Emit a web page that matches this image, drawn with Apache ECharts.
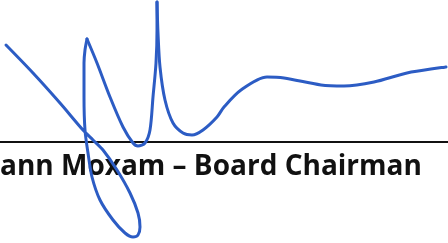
<!DOCTYPE html>
<html>
<head>
<meta charset="utf-8">
<script src="https://cdn.jsdelivr.net/npm/echarts@6/dist/echarts.min.js"></script>
<style>html,body{margin:0;padding:0;background:#fff}#c{width:448px;height:243px}</style>
</head>
<body>
<div id="c"></div>
<script>
const sigX = [6, 33, 60, 83, 93, 103, 117, 130, 138, 140, 138, 133, 125, 113, 100, 92, 88, 85, 84, 84, 85, 87, 97, 110, 123, 133, 138, 145, 150, 153, 156, 157, 157, 158, 160, 165, 173, 183, 192, 203, 217, 224, 241, 267, 284, 321, 344, 374, 407, 446];
const sigY = [45, 73, 103, 130, 140, 150, 170, 193, 213, 227, 235, 237, 233, 220, 200, 177, 153, 130, 97, 63, 50, 39, 63, 97, 127, 143, 146, 143, 130, 97, 63, 30, 2, 33, 67, 100, 123, 133, 135, 130, 117, 107, 90, 77, 78, 85, 86, 82, 73, 67];
// indices where the pen turns sharply (stroke is split there)
const sharpPoints = [21, 32];
const ruleX = [0, 448];
const ruleY = [142, 142];
const caption = 'ann Moxam \u2013 Board Chairman';

const sigData = sigX.map((x, i) => [x, sigY[i]]);
const ruleData = ruleX.map((x, i) => [x, ruleY[i]]);
const cuts = [0, ...sharpPoints, sigData.length - 1];
const strokeSeries = [];
for (let k = 0; k < cuts.length - 1; k++) {
  strokeSeries.push({
    type: 'line', data: sigData.slice(cuts[k], cuts[k + 1] + 1), symbol: 'none',
    smooth: 0.3, z: 3,
    lineStyle: {color: '#2c5cc4', width: 3, cap: 'round', join: 'round'}
  });
}

const chart = echarts.init(document.getElementById('c'), null, {renderer: 'canvas'});
chart.setOption({
  animation: false,
  backgroundColor: '#fff',
  title: {
    text: caption,
    left: 0,
    top: 153,
    padding: 0,
    z: 1,
    textStyle: {fontFamily: 'Open Sans', fontSize: 28, fontWeight: 'bold', color: '#111'}
  },
  grid: {left: 0, right: 0, top: 0, bottom: 0},
  xAxis: {type: 'value', min: 0, max: 448, show: false},
  yAxis: {type: 'value', min: 0, max: 243, inverse: true, show: false},
  series: [
    {type: 'line', data: ruleData, symbol: 'none', z: 2,
     lineStyle: {color: '#111', width: 2}},
    ...strokeSeries
  ]
});
</script>
</body>
</html>
